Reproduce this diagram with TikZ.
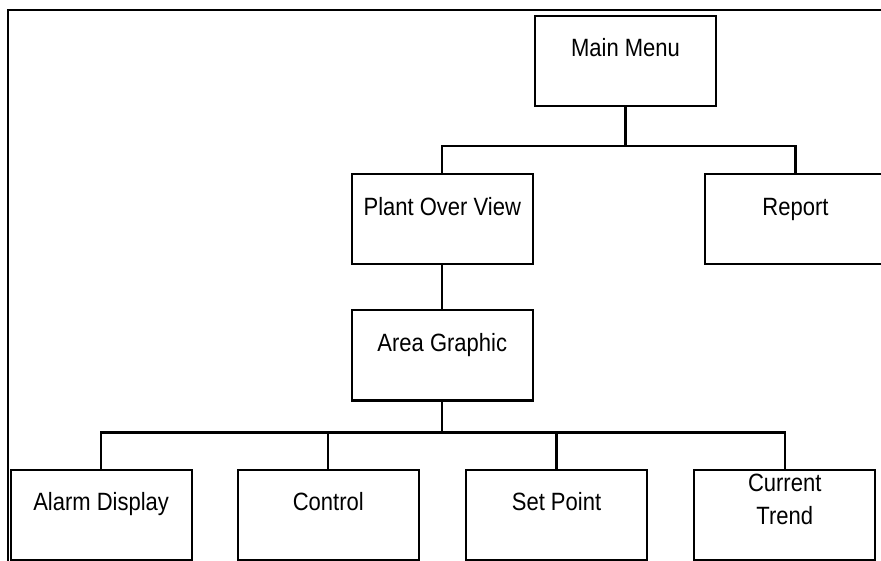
\documentclass[tikz,border=0pt]{standalone}
\usepackage{fontspec}
\setmainfont{Liberation Sans}[FakeStretch=0.88]
\usepackage{tikz}
\usetikzlibrary{positioning}

\begin{document}
\begin{tikzpicture}[x=1pt, y=1pt,
    menubox/.style={draw, line width=2.2pt, minimum width=181pt, minimum height=90pt, inner sep=0pt,
        text height=18pt, text depth=26pt, align=center, font=\fontsize{25}{33}\selectfont},
    link/.style={line width=2.2pt}]
    \useasboundingbox (0,0) rectangle (881,-561);

        \node [menubox] (main) at (625.5,-61) {Main Menu};
        \node [menubox, below left=66pt and 0pt of main] (plant) {Plant Over View};
        \node [menubox, right=170pt of plant] (report) {Report};
        \node [menubox, below=44pt of plant] (area) {Area Graphic};

        \node [menubox, below left=67pt and 158pt of area] (alarm) {Alarm Display};
        \node [menubox, right=44pt of alarm] (control) {Control};
        \node [menubox, right=45pt of control] (setpoint) {Set Point};
        \node [menubox, right=45pt of setpoint, text height=19pt, text depth=0pt] (trend) {Current\\Trend};

        \draw [link] (881,-10) -- (8,-10) -- (8,-561);

        \draw [link] (main.south) -- ++(0,-39pt) -| (plant.north);
        \draw [link] (main.south) -- ++(0,-39pt) -| (report.north);
        \draw [link] (plant.south) -- (area.north);
        \foreach \kid in {alarm, control, setpoint, trend}
            \draw [link] (area.south) -- ++(0,-31pt) -| (\kid.north);

    \end{tikzpicture}
\end{document}
